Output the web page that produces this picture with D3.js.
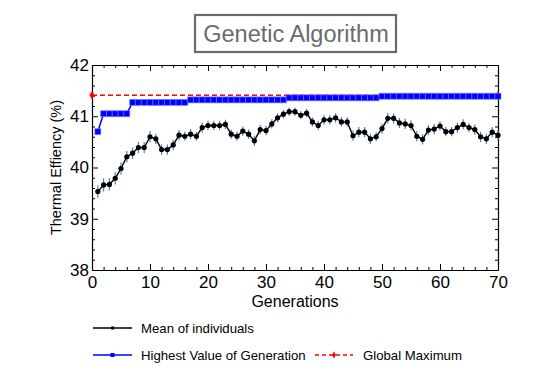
<!DOCTYPE html>
<html>
<head>
<meta charset="utf-8">
<script src="https://cdn.jsdelivr.net/npm/d3@7"></script>
<style>
body{margin:0;background:#fff;}
text{font-family:"Liberation Sans",Arial,sans-serif;}
</style>
</head>
<body>
<svg id="chart" width="557" height="380"></svg>
<script>
const generations = d3.range(1, 71);
const meanValues = [39.53,39.66,39.67,39.79,39.98,40.21,40.28,40.39,40.39,40.60,
40.56,40.35,40.35,40.44,40.63,40.61,40.65,40.61,40.78,40.82,
40.82,40.82,40.84,40.65,40.61,40.71,40.65,40.52,40.74,40.72,
40.85,40.97,41.04,41.09,41.09,41.02,41.06,40.89,40.82,40.93,
40.93,40.97,40.89,40.89,40.62,40.69,40.69,40.56,40.60,40.76,
40.96,40.96,40.87,40.85,40.82,40.61,40.55,40.73,40.75,40.81,
40.70,40.70,40.78,40.84,40.78,40.74,40.60,40.56,40.69,40.63];
const meanErrors = [0.12,0.13,0.12,0.12,0.12,0.11,0.11,0.11,0.11,0.11,
0.10,0.10,0.10,0.10,0.10,0.09,0.10,0.09,0.10,0.09,
0.09,0.09,0.09,0.09,0.09,0.09,0.09,0.10,0.09,0.09,
0.09,0.09,0.08,0.08,0.08,0.08,0.08,0.09,0.09,0.09,
0.09,0.09,0.09,0.09,0.10,0.10,0.10,0.10,0.09,0.10,
0.10,0.10,0.10,0.10,0.10,0.10,0.10,0.10,0.10,0.09,
0.09,0.09,0.10,0.10,0.09,0.10,0.10,0.10,0.10,0.10];
const bestValues = [40.70,41.05,41.05,41.05,41.05,41.05,41.27,41.27,41.27,41.27,
41.27,41.27,41.27,41.27,41.27,41.27,41.32,41.32,41.32,41.32,
41.32,41.32,41.32,41.32,41.32,41.32,41.32,41.32,41.32,41.32,
41.32,41.32,41.32,41.36,41.36,41.36,41.36,41.36,41.36,41.36,
41.36,41.36,41.36,41.36,41.36,41.36,41.36,41.36,41.36,41.39,
41.39,41.39,41.39,41.39,41.39,41.39,41.39,41.39,41.39,41.39,
41.39,41.39,41.39,41.39,41.39,41.39,41.39,41.39,41.39,41.39];
const globalGens = [0, 70];
const globalValues = [41.41, 41.41];
const xTicks = [0,10,20,30,40,50,60,70];
const yTicks = [38,39,40,41,42];
const titleText = "Genetic Algorithm";
const xLabel = "Generations";
const yLabel = "Thermal Effiency (%)";
const legendLabels = ["Mean of individuals","Highest Value of Generation","Global Maximum"];

const svg = d3.select("#chart");
const L = 92, R = 498, T = 65, B = 270;
const x = d3.scaleLinear().domain([0,70]).range([L,R]);
const y = d3.scaleLinear().domain([38,42]).range([B,T]);

// Title box
const tg = svg.append("g");
tg.append("rect").attr("x",195).attr("y",15).attr("width",201).attr("height",37)
  .attr("fill","#fff").attr("stroke","#6b6b6b").attr("stroke-width",2.2);
tg.append("text").attr("x",296).attr("y",42).attr("text-anchor","middle")
  .attr("font-size",23.5).attr("fill","#6b6b6b").text(titleText);

// axes
const tickStyle = g => { g.selectAll("path").attr("stroke","#000").attr("stroke-width",1.2); g.selectAll("line").attr("stroke","#000"); };
const xMinor = d3.range(0,71,2).filter(v=>v%10!==0);
const yMinor = d3.range(38,42.001,0.2).filter(v=>Math.abs(v-Math.round(v))>0.01);

svg.append("g").attr("transform",`translate(0,${B})`)
  .call(d3.axisBottom(x).tickValues(xTicks).tickSizeInner(-6).tickSizeOuter(0).tickPadding(4))
  .call(tickStyle)
  .call(g=>g.selectAll("text").attr("font-size",17).attr("fill","#000").attr("dy","0.8em"));
svg.append("g").attr("transform",`translate(0,${B})`)
  .call(d3.axisBottom(x).tickValues(xMinor).tickSize(-3).tickFormat(""))
  .call(g=>{g.select("path").remove(); g.selectAll("line").attr("stroke","#000");});
svg.append("g").attr("transform",`translate(0,${T})`)
  .call(d3.axisTop(x).tickValues(xTicks).tickSizeInner(-6).tickSizeOuter(0).tickFormat(""))
  .call(tickStyle);
svg.append("g").attr("transform",`translate(0,${T})`)
  .call(d3.axisTop(x).tickValues(xMinor).tickSize(-3).tickFormat(""))
  .call(g=>{g.select("path").remove(); g.selectAll("line").attr("stroke","#000");});

svg.append("g").attr("transform",`translate(${L},0)`)
  .call(d3.axisLeft(y).tickValues(yTicks).tickSizeInner(-6).tickSizeOuter(0).tickPadding(3).tickFormat(d3.format("d")))
  .call(tickStyle)
  .call(g=>g.selectAll("text").attr("font-size",17).attr("fill","#000"));
svg.append("g").attr("transform",`translate(${L},0)`)
  .call(d3.axisLeft(y).tickValues(yMinor).tickSize(-3).tickFormat(""))
  .call(g=>{g.select("path").remove(); g.selectAll("line").attr("stroke","#000");});
svg.append("g").attr("transform",`translate(${R},0)`)
  .call(d3.axisRight(y).tickValues(yTicks).tickSizeInner(-6).tickSizeOuter(0).tickFormat(""))
  .call(tickStyle);
svg.append("g").attr("transform",`translate(${R},0)`)
  .call(d3.axisRight(y).tickValues(yMinor).tickSize(-3).tickFormat(""))
  .call(g=>{g.select("path").remove(); g.selectAll("line").attr("stroke","#000");});

// axis titles
svg.append("text").attr("x",(L+R)/2).attr("y",307).attr("text-anchor","middle")
  .attr("font-size",16).text(xLabel);
svg.append("text").attr("transform",`translate(61,${(T+B)/2}) rotate(-90)`)
  .attr("text-anchor","middle").attr("font-size",14.5).text(yLabel);

// data
const plot = svg.append("g");
// global maximum
plot.append("path").datum(globalGens.map((g,i)=>[g,globalValues[i]]))
  .attr("d", d3.line().x(d=>x(d[0])).y(d=>y(d[1])))
  .attr("fill","none").attr("stroke","#ff0000").attr("stroke-width",1.3).attr("stroke-dasharray","5,3");
plot.selectAll(".gm").data(globalGens.map((g,i)=>[g,globalValues[i]])).enter()
  .append("path").attr("transform",d=>`translate(${x(d[0])},${y(d[1])})`)
  .attr("d", d3.symbol(d3.symbolDiamond, 22)).attr("fill","#ff0000");

// best
const bestData = generations.map((g,i)=>[g,bestValues[i]]);
plot.append("path").datum(bestData)
  .attr("d", d3.line().x(d=>x(d[0])).y(d=>y(d[1])))
  .attr("fill","none").attr("stroke","#0000ff").attr("stroke-width",1.5);
plot.selectAll(".bm").data(bestData).enter().append("rect")
  .attr("x",d=>x(d[0])-3).attr("y",d=>y(d[1])-3).attr("width",6).attr("height",6)
  .attr("fill","#0000ff").attr("stroke","#8080ff").attr("stroke-opacity",0.6).attr("stroke-width",1);

// mean with error bars
const meanData = generations.map((g,i)=>[g,meanValues[i],meanErrors[i]]);
plot.selectAll(".err").data(meanData).enter().append("line")
  .attr("x1",d=>x(d[0])).attr("x2",d=>x(d[0]))
  .attr("y1",d=>y(d[1]-d[2])).attr("y2",d=>y(d[1]+d[2]))
  .attr("stroke","#4f7fc4").attr("stroke-width",1.2);
plot.append("path").datum(meanData)
  .attr("d", d3.line().x(d=>x(d[0])).y(d=>y(d[1])))
  .attr("fill","none").attr("stroke","#000").attr("stroke-width",1.4);
plot.selectAll(".mm").data(meanData).enter().append("circle")
  .attr("cx",d=>x(d[0])).attr("cy",d=>y(d[1])).attr("r",2.6).attr("fill","#000");

// legend
const lg = svg.append("g");
lg.append("line").attr("x1",93).attr("x2",132).attr("y1",328).attr("y2",328).attr("stroke","#000").attr("stroke-width",1.3);
lg.append("circle").attr("cx",112.5).attr("cy",328).attr("r",1.8).attr("fill","#000");
lg.append("text").attr("x",141).attr("y",332.5).attr("font-size",13.2).text(legendLabels[0]);
lg.append("line").attr("x1",93).attr("x2",132).attr("y1",355).attr("y2",355).attr("stroke","#0000ff").attr("stroke-width",1.3);
lg.append("rect").attr("x",110.5).attr("y",353).attr("width",4).attr("height",4).attr("fill","#0000ff");
lg.append("text").attr("x",141).attr("y",359.5).attr("font-size",13.2).text(legendLabels[1]);
lg.append("line").attr("x1",315).attr("x2",353).attr("y1",355).attr("y2",355).attr("stroke","#ff0000").attr("stroke-width",1.3).attr("stroke-dasharray","4,3");
lg.append("path").attr("transform","translate(334,355)").attr("d",d3.symbol(d3.symbolDiamond,14)).attr("fill","#ff0000");
lg.append("text").attr("x",363).attr("y",359.5).attr("font-size",13.2).text(legendLabels[2]);
</script>
</body>
</html>
